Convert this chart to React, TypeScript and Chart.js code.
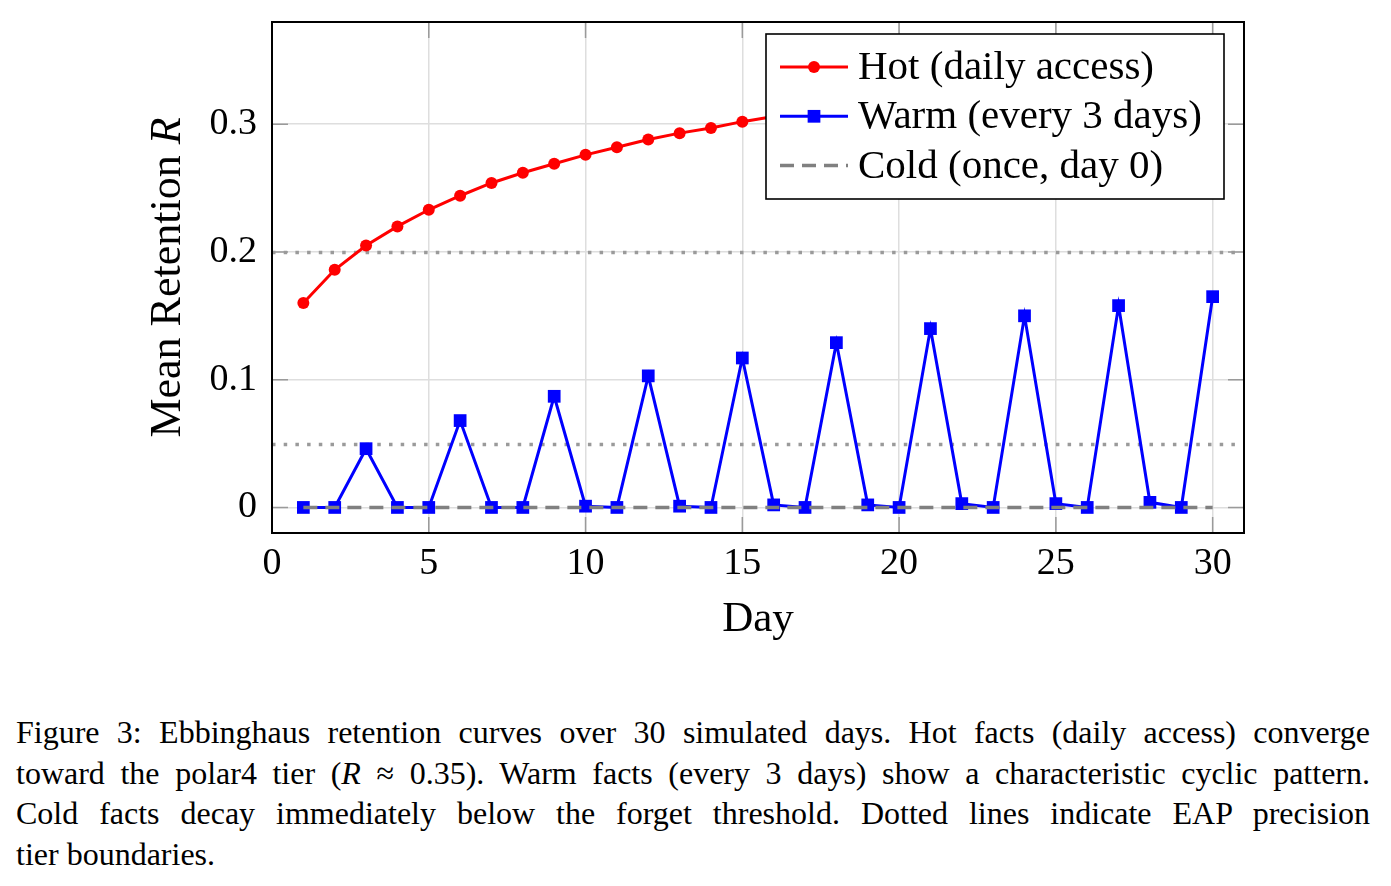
import { useEffect, useRef } from 'react';
import { Chart, registerables } from 'chart.js';

Chart.register(...registerables);

// Simulation days
const days = [
  1, 2, 3, 4, 5, 6, 7, 8, 9, 10, 11, 12, 13, 14, 15,
  16, 17, 18, 19, 20, 21, 22, 23, 24, 25, 26, 27, 28, 29, 30,
];

// Mean retention R per day for each access pattern
const hotRetention = [
  0.160, 0.186, 0.205, 0.220, 0.233, 0.244, 0.254, 0.262, 0.269, 0.276,
  0.282, 0.288, 0.293, 0.297, 0.302, 0.306, 0.310, 0.313, 0.316, 0.319,
  0.322, 0.324, 0.326, 0.328, 0.330, 0.332, 0.334, 0.335, 0.337, 0.338,
];
const warmRetention = [
  0.000, 0.000, 0.046, 0.000, 0.000, 0.068, 0.000, 0.000, 0.087, 0.001,
  0.000, 0.103, 0.001, 0.000, 0.117, 0.002, 0.000, 0.129, 0.002, 0.000,
  0.140, 0.003, 0.000, 0.150, 0.003, 0.000, 0.158, 0.004, 0.000, 0.165,
];
const coldRetention = [
  0, 0, 0, 0, 0, 0, 0, 0, 0, 0, 0, 0, 0, 0, 0,
  0, 0, 0, 0, 0, 0, 0, 0, 0, 0, 0, 0, 0, 0, 0,
];

// EAP precision tier boundaries (dotted)
const tierBoundaries = [0.2, 0.05];

// Axis ticks
const xTickValues = [0, 5, 10, 15, 20, 25, 30];
const xTickLabels = ['0', '5', '10', '15', '20', '25', '30'];
const yTickValues = [0, 0.1, 0.2, 0.3];
const yTickLabels = ['0', '0.1', '0.2', '0.3'];

const seriesLabels = ['Hot (daily access)', 'Warm (every 3 days)', 'Cold (once, day 0)'];
const xTitle = 'Day';
const yTitle = 'Mean Retention ';
const yTitleSymbol = 'R';

const captionLines = [
  'Figure 3: Ebbinghaus retention curves over 30 simulated days. Hot facts (daily access) converge',
  'toward the polar4 tier (|R| ≈ 0.35). Warm facts (every 3 days) show a characteristic cyclic pattern.',
  'Cold facts decay immediately below the forget threshold. Dotted lines indicate EAP precision',
  'tier boundaries.',
];

const SERIF = '"Liberation Serif", "DejaVu Serif", serif';
const W = 1391;
const H = 680;

const RED = '#ff0000';
const BLUE = '#0000ff';
const GRAY = '#808080';

const framePlugin = {
  id: 'framePlugin',
  beforeDatasetsDraw(chart: any) {
    const { ctx, chartArea: a, scales } = chart;
    ctx.save();
    ctx.beginPath();
    ctx.rect(a.left, a.top, a.right - a.left, a.bottom - a.top);
    ctx.clip();
    ctx.strokeStyle = '#9a9a9a';
    ctx.lineWidth = 3.5;
    ctx.setLineDash([3.5, 8.2]);
    for (const v of tierBoundaries) {
      const py = Math.round(scales.y.getPixelForValue(v)) + 0.5;
      ctx.beginPath();
      ctx.moveTo(a.left, py);
      ctx.lineTo(a.right, py);
      ctx.stroke();
    }
    ctx.restore();
  },
  afterDatasetsDraw(chart: any) {
    const { ctx, chartArea: a, scales } = chart;
    ctx.save();

    // inward tick marks on all four sides
    ctx.strokeStyle = '#9a9a9a';
    ctx.lineWidth = 1.5;
    const tl = 16;
    for (const v of xTickValues) {
      const px = scales.x.getPixelForValue(v);
      ctx.beginPath();
      ctx.moveTo(px, a.bottom);
      ctx.lineTo(px, a.bottom - tl);
      ctx.moveTo(px, a.top);
      ctx.lineTo(px, a.top + tl);
      ctx.stroke();
    }
    for (const v of yTickValues) {
      const py = scales.y.getPixelForValue(v);
      ctx.beginPath();
      ctx.moveTo(a.left, py);
      ctx.lineTo(a.left + tl, py);
      ctx.moveTo(a.right, py);
      ctx.lineTo(a.right - tl, py);
      ctx.stroke();
    }

    // axis frame
    ctx.strokeStyle = '#000';
    ctx.lineWidth = 2;
    ctx.strokeRect(a.left, a.top, a.right - a.left, a.bottom - a.top);

    // legend box
    const bw = 458;
    const bh = 165;
    const bx = a.right - 20 - bw;
    const by = a.top + 12;
    ctx.fillStyle = '#fff';
    ctx.fillRect(bx, by, bw, bh);
    ctx.strokeStyle = '#000';
    ctx.lineWidth = 1.6;
    ctx.strokeRect(bx, by, bw, bh);

    ctx.font = `41px ${SERIF}`;
    ctx.textBaseline = 'alphabetic';
    ctx.textAlign = 'left';
    chart.data.datasets.forEach((ds: any, i: number) => {
      const ry = by + 33 + i * 49.3;
      const x0 = bx + 14;
      const x1 = bx + 82;
      const xm = (x0 + x1) / 2;
      ctx.strokeStyle = ds.borderColor;
      ctx.lineWidth = ds.borderWidth;
      ctx.setLineDash(ds.borderDash || []);
      ctx.beginPath();
      ctx.moveTo(x0, ry);
      ctx.lineTo(x1, ry);
      ctx.stroke();
      ctx.setLineDash([]);
      ctx.fillStyle = ds.backgroundColor;
      if (ds.pointStyle === 'circle' && ds.pointRadius > 0) {
        ctx.beginPath();
        ctx.arc(xm, ry, ds.pointRadius, 0, Math.PI * 2);
        ctx.fill();
      } else if (ds.pointStyle === 'rect' && ds.pointRadius > 0) {
        const s = ds.pointRadius * Math.SQRT1_2;
        ctx.fillRect(xm - s, ry - s, 2 * s, 2 * s);
      }
      ctx.fillStyle = '#000';
      ctx.fillText(ds.label, bx + 92, ry + 12);
    });

    // axis titles
    ctx.fillStyle = '#000';
    ctx.textAlign = 'center';
    ctx.font = `43px ${SERIF}`;
    ctx.fillText(xTitle, (a.left + a.right) / 2, a.bottom + 98);

    ctx.translate(a.left - 92, (a.top + a.bottom) / 2);
    ctx.rotate(-Math.PI / 2);
    const upright = `44px ${SERIF}`;
    const italic = `italic 44px ${SERIF}`;
    ctx.font = upright;
    const w1 = ctx.measureText(yTitle).width;
    ctx.font = italic;
    const w2 = ctx.measureText(yTitleSymbol).width;
    const start = -(w1 + w2) / 2;
    ctx.textAlign = 'left';
    ctx.font = upright;
    ctx.fillText(yTitle, start, 0);
    ctx.font = italic;
    ctx.fillText(yTitleSymbol, start + w1, 0);

    ctx.restore();
  },
};

function RetentionChart() {
  const ref = useRef<HTMLCanvasElement | null>(null);

  useEffect(() => {
    if (!ref.current) return;
    const toPoints = (vals: number[]) => days.map((d, i) => ({ x: d, y: vals[i] }));
    const chart = new Chart(ref.current, {
      type: 'line',
      data: {
        datasets: [
          {
            label: seriesLabels[0],
            data: toPoints(hotRetention),
            borderColor: RED,
            backgroundColor: RED,
            borderWidth: 3,
            pointStyle: 'circle',
            pointRadius: 6,
            pointBorderWidth: 0,
            order: 3,
          },
          {
            label: seriesLabels[1],
            data: toPoints(warmRetention),
            borderColor: BLUE,
            backgroundColor: BLUE,
            borderWidth: 3,
            pointStyle: 'rect',
            pointRadius: 9,
            pointBorderWidth: 0,
            order: 2,
          },
          {
            label: seriesLabels[2],
            data: toPoints(coldRetention),
            borderColor: GRAY,
            backgroundColor: GRAY,
            borderWidth: 3.5,
            borderDash: [14, 8],
            pointRadius: 0,
            order: 1,
          },
        ],
      },
      options: {
        responsive: false,
        animation: false,
        devicePixelRatio: 1,
        layout: { padding: { top: 22, right: 147, left: 0, bottom: 0 } },
        plugins: { legend: { display: false }, tooltip: { enabled: false } },
        scales: {
          x: {
            type: 'linear',
            min: 0,
            max: 31,
            afterBuildTicks: (s: any) => {
              s.ticks = xTickValues.map((v) => ({ value: v }));
            },
            afterFit: (s: any) => {
              s.height = H - 533;
              s.paddingLeft = 0;
              s.paddingRight = 0;
            },
            grid: { color: '#dedede', lineWidth: 1.5, drawTicks: false },
            border: { display: false },
            ticks: {
              padding: 8,
              color: '#000',
              font: { family: SERIF, size: 38 },
              maxRotation: 0,
              autoSkip: false,
              callback: (_v: any, i: number) => xTickLabels[i],
            },
          },
          y: {
            type: 'linear',
            min: -0.02,
            max: 0.38,
            afterBuildTicks: (s: any) => {
              s.ticks = yTickValues.map((v) => ({ value: v }));
            },
            afterFit: (s: any) => {
              s.width = 272;
              s.paddingTop = 0;
              s.paddingBottom = 0;
            },
            grid: { color: '#dedede', lineWidth: 1.5, drawTicks: false },
            border: { display: false },
            ticks: {
              padding: 15,
              color: '#000',
              font: { family: SERIF, size: 38 },
              autoSkip: false,
              callback: (_v: any, i: number) => yTickLabels[i],
            },
          },
        },
      },
      plugins: [framePlugin],
    });
    return () => chart.destroy();
  }, []);

  return (
    <canvas
      ref={ref}
      width={W}
      height={H}
      style={{ position: 'absolute', left: 0, top: 0, width: W, height: H }}
    />
  );
}

function CaptionLine({ text, last }: { text: string; last: boolean }) {
  const parts = text.split('|');
  return (
    <div
      style={{
        textAlign: last ? 'left' : 'justify',
        textAlignLast: last ? 'left' : 'justify',
        height: 40.5,
        lineHeight: '40.5px',
        whiteSpace: 'nowrap',
      }}
    >
      {parts.map((p, i) => (i % 2 === 1 ? <i key={i}>{p}</i> : <span key={i}>{p}</span>))}
    </div>
  );
}

export default function App() {
  return (
    <div
      style={{
        position: 'absolute',
        left: 0,
        top: 0,
        width: W,
        height: 886,
        background: '#fff',
        overflow: 'hidden',
      }}
    >
      <RetentionChart />
      <div
        style={{
          position: 'absolute',
          left: 16,
          top: 712,
          width: 1354,
          fontFamily: SERIF,
          fontSize: 32,
          color: '#000',
        }}
      >
        {captionLines.map((t, i) => (
          <CaptionLine key={i} text={t} last={i === captionLines.length - 1} />
        ))}
      </div>
    </div>
  );
}
